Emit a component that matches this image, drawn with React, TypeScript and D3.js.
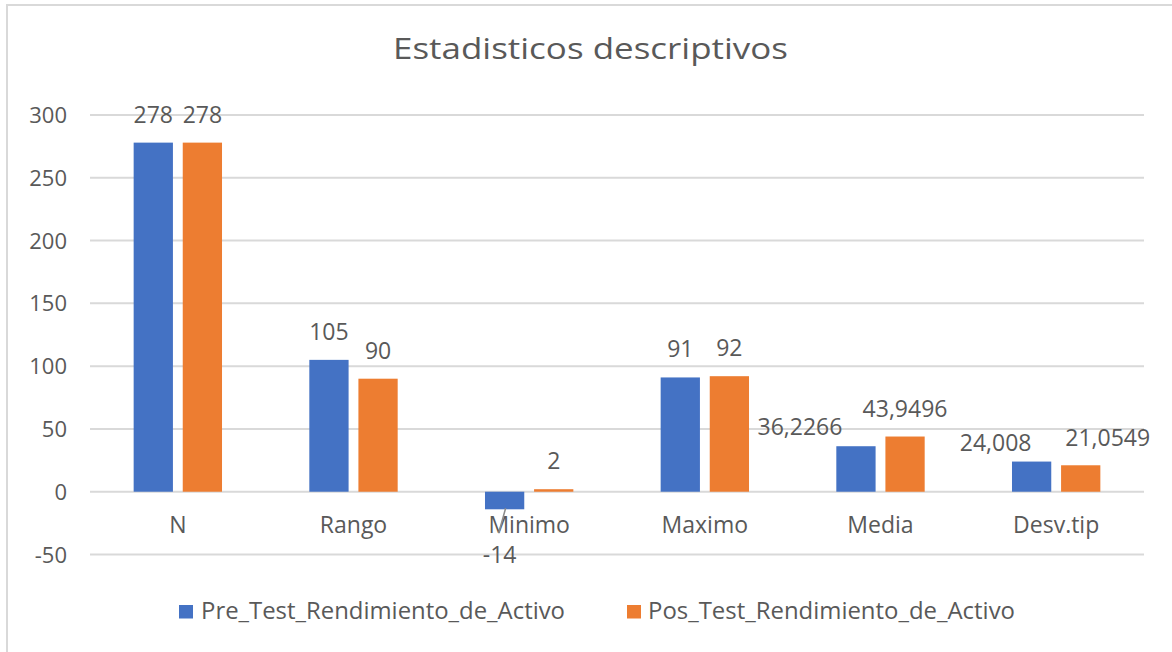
import React from "react";
import * as d3 from "d3";

const categories = ["N", "Rango", "Minimo", "Maximo", "Media", "Desv.tip"];
const preValues = [278, 105, -14, 91, 36.2266, 24.008];
const posValues = [278, 90, 2, 92, 43.9496, 21.0549];
const seriesNames = ["Pre_Test_Rendimiento_de_Activo", "Pos_Test_Rendimiento_de_Activo"];
const seriesColors = ["#4472C4", "#ED7D31"];
const yTicks = [-50, 0, 50, 100, 150, 200, 250, 300];
const title = "Estadisticos descriptivos";
// manual label nudges (dx, dy) as in the reference, per series per category
const preNudge: [number, number][] = [[0, 0], [0, 0], [-5, 0], [0, 0], [-56, 9], [-36, 9]];
const posNudge: [number, number][] = [[0, 0], [0, 0], [0, 0], [0, 0], [0, 0], [27, 1]];

const W = 1172;
const H = 652;
const FONT = "'Open Sans', 'Noto Sans', sans-serif";
const TEXT = "#595959";

const fmt = (v: number) => String(v).replace(".", ",");

export default function App() {
  const x = d3.scaleBand<string>().domain(categories).range([90, 1144]).paddingInner(0).paddingOuter(0);
  const y = d3.scaleLinear().domain([-50, 300]).range([554.5, 115]);
  const groupW = x.bandwidth() * 0.503;
  const inner = d3.scaleBand<number>().domain([0, 1]).range([0, groupW]).paddingInner(0.2).paddingOuter(0);
  const series = [preValues, posValues];
  const nudges = [preNudge, posNudge];

  const bars: JSX.Element[] = [];
  const labels: JSX.Element[] = [];
  series.forEach((vals, si) => {
    vals.forEach((v, ci) => {
      const cx = (x(categories[ci]) as number) + x.bandwidth() / 2;
      const bx = cx - groupW / 2 + (inner(si) as number);
      const y0 = y(0);
      const yv = y(v);
      bars.push(
        <rect key={`b${si}-${ci}`} x={bx} y={Math.min(y0, yv)} width={inner.bandwidth()} height={Math.abs(yv - y0)} fill={seriesColors[si]} />
      );
      const [dx, dy] = nudges[si][ci];
      const lx = bx + inner.bandwidth() / 2 + dx;
      let ly: number;
      if (v >= 0) {
        ly = yv - 20 + dy;
      } else {
        ly = yv + 54 + dy;
        labels.push(
          <line key={`ld${si}-${ci}`} x1={bx + inner.bandwidth() / 2 + 1} y1={yv - 1} x2={lx - 1} y2={yv + 24} stroke="#8C8C8C" strokeWidth={1.5} />
        );
      }
      labels.push(
        <text key={`l${si}-${ci}`} x={lx} y={ly} textAnchor="middle" fontSize={23} fill={TEXT} fontFamily={FONT}>
          {fmt(v)}
        </text>
      );
    });
  });

  return (
    <svg width={W} height={H} style={{ position: "absolute", left: 0, top: 0, background: "#fff" }}>
      <rect x={7} y={5} width={W} height={H} fill="#fff" stroke="#D9D9D9" strokeWidth={2} />
      <text x={393} y={59} fontSize={29} fill={TEXT} fontFamily={FONT} textLength={395} lengthAdjust="spacingAndGlyphs">
        {title}
      </text>
      {yTicks.map((t) => (
        <g key={t}>
          <line x1={90} x2={1144} y1={y(t)} y2={y(t)} stroke="#D9D9D9" strokeWidth={2} />
          <text x={67} y={y(t) + 8} textAnchor="end" fontSize={22} fill={TEXT} fontFamily={FONT}>
            {t}
          </text>
        </g>
      ))}
      {bars}
      {categories.map((c) => (
        <text key={c} x={(x(c) as number) + x.bandwidth() / 2} y={533} textAnchor="middle" fontSize={23} fill={TEXT} fontFamily={FONT}>
          {c}
        </text>
      ))}
      {labels}
      <g>
        <rect x={179} y={605} width={14} height={13.5} fill={seriesColors[0]} />
        <text x={201} y={618.5} fontSize={23} fill={TEXT} fontFamily={FONT} textLength={364} lengthAdjust="spacingAndGlyphs">{seriesNames[0]}</text>
        <rect x={627} y={605} width={14} height={13.5} fill={seriesColors[1]} />
        <text x={648} y={618.5} fontSize={23} fill={TEXT} fontFamily={FONT} textLength={367} lengthAdjust="spacingAndGlyphs">{seriesNames[1]}</text>
      </g>
    </svg>
  );
}
